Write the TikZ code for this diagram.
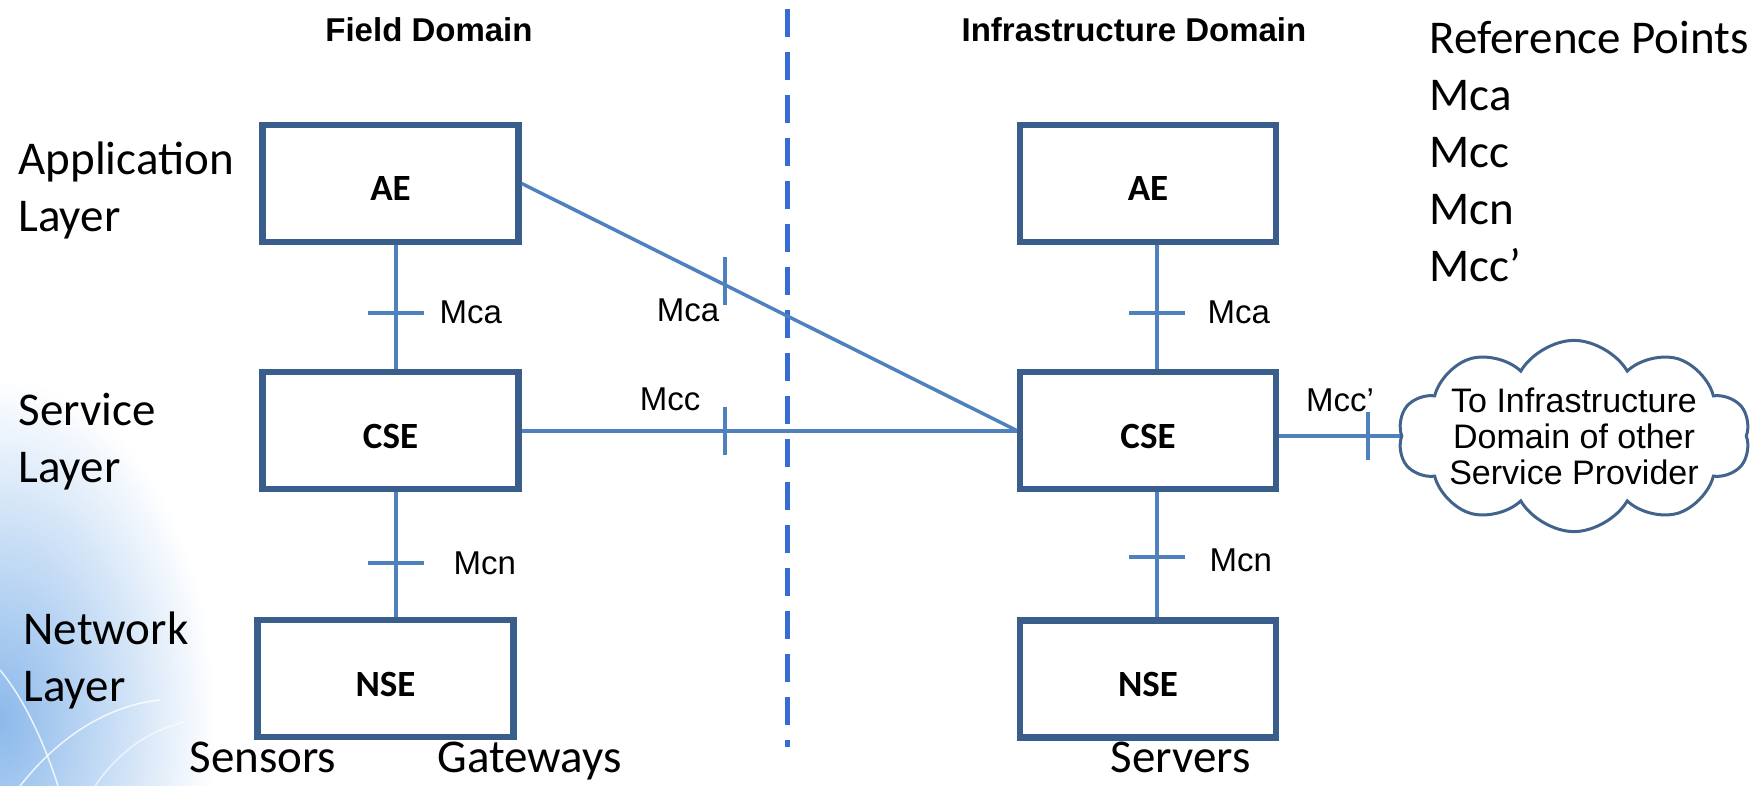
\documentclass[tikz,border=0pt]{standalone}
\usepackage{fontspec}
\setmainfont{Carlito}
\newfontfamily\arialfont{Liberation Sans}
\usetikzlibrary{shapes.symbols,fadings}

\definecolor{boxblue}{RGB}{58,94,140}
\definecolor{linkblue}{RGB}{79,129,189}
\definecolor{dashblue}{RGB}{55,108,208}
\definecolor{cloudblue}{RGB}{66,100,140}
\definecolor{bgblue}{RGB}{140,185,235}

\tikzfading[name=cornerfade, inner color=transparent!0, outer color=transparent!100]

\tikzset{
  entity/.style={draw=boxblue, line width=6.5pt, fill=white, minimum width=256pt,
    minimum height=117pt, inner sep=0pt, text height=35pt, text depth=0pt,
    font=\bfseries\fontsize{37}{40}\selectfont},
  link/.style={draw=linkblue, line width=4.5pt},
  refpt/.style={font=\arialfont\fontsize{33}{38}\selectfont},
  big/.style={font=\fontsize{47}{57}\selectfont, align=left},
}

\begin{document}
\begin{tikzpicture}[x=1pt, y=-1pt]
\useasboundingbox (0,0) rectangle (1754,786);

% background corner
\begin{scope}
\clip (0,0) rectangle (1754,786);
\fill[bgblue, path fading=cornerfade] (0,720) ellipse (215pt and 340pt);
\draw[white, line width=1.5pt, opacity=0.8] (0,670) .. controls (25,700) and (45,745) .. (58,786);
\draw[white, line width=1.5pt, opacity=0.8] (20,786) .. controls (60,735) and (110,705) .. (160,700);
\draw[white, line width=1.5pt, opacity=0.6] (95,786) .. controls (120,750) and (150,730) .. (185,722);
\end{scope}

% domain titles and divider
\node[font=\arialfont\bfseries\fontsize{33}{38}\selectfont, anchor=base] (tfield) at (429,42) {Field Domain};
\node[font=\arialfont\bfseries\fontsize{33}{38}\selectfont, anchor=base] (tinfra) at (1134,42) {Infrastructure Domain};
\coordinate (dtop) at (787,9);
\coordinate (dbot) at (787,747);
\draw[dashblue, line width=5pt, dash pattern=on 28pt off 15pt] (dtop) -- (dbot);

% layers (base = last line)
\node[big, anchor=base west] (lapp) at (15,232) {Application\\Layer};
\node[big, anchor=base west] (lsrv) at (15,482) {Service\\Layer};
\node[big, anchor=base west] (lnet) at (20,701) {Network\\Layer};

% reference points
\node[big, anchor=base west] (refs) at (1426,282) {Reference Points\\Mca\\Mcc\\Mcn\\Mcc’};

% field domain
\node[entity] (fae) at (390.5,183.5) {AE};
\node[entity] (fcse) at (390.5,430.5) {CSE};
\node[entity] (fnse) at (385.5,678.5) {NSE};

% infrastructure domain
\node[entity] (iae) at (1148,183.5) {AE};
\node[entity] (icse) at (1148,430.5) {CSE};
\node[entity] (inse) at (1148,679) {NSE};

% other provider
\node[cloud, cloud puffs=10, cloud puff arc=120, aspect=2.2, draw=cloudblue, line width=3pt,
  minimum width=352pt, minimum height=160pt, inner sep=-14pt, align=center,
  font=\arialfont\fontsize{34}{36}\selectfont] (cloud) at (1574,436)
  {To Infrastructure\\Domain of other\\Service Provider};

% interfaces
\draw[link] ([xshift=5.5pt]fae.south) -- coordinate[pos=0.545] (tmca1) ([xshift=5.5pt]fcse.north);
\draw[link] ([xshift=10.5pt]fnse.north |- fcse.south) -- coordinate[pos=0.57] (tmcn1) ([xshift=10.5pt]fnse.north);
\draw[link] ([xshift=9pt]iae.south) -- coordinate[pos=0.545] (tmca2) ([xshift=9pt]icse.north);
\draw[link] ([xshift=9pt]icse.south) -- coordinate[pos=0.52] (tmcn2) ([xshift=9pt]inse.north);
\draw[link, line width=3.5pt] (fae.east) -- coordinate[pos=0.41] (tmca3) (icse.west);
\draw[link, line width=4pt] (fcse.east) -- coordinate[pos=0.41] (tmcc1) (icse.west);
\draw[link, line width=4pt] (icse.east |- cloud.west) -- coordinate[pos=0.73] (tmcc2) (cloud.west);

% ticks
\draw[link, line width=4pt] ([xshift=-28pt]tmca1) -- ([xshift=28pt]tmca1);
\draw[link, line width=4pt] ([xshift=-28pt]tmcn1) -- ([xshift=28pt]tmcn1);
\draw[link, line width=4pt] ([xshift=-28pt]tmca2) -- ([xshift=28pt]tmca2);
\draw[link, line width=4pt] ([xshift=-28pt]tmcn2) -- ([xshift=28pt]tmcn2);
\draw[link, line width=4pt] ([yshift=28pt]tmca3) -- ([yshift=-20pt]tmca3);
\draw[link, line width=4pt] ([yshift=24pt]tmcc1) -- ([yshift=-24pt]tmcc1);
\draw[link, line width=4pt] ([yshift=24pt]tmcc2) -- ([yshift=-24pt]tmcc2);

% interface labels
\node[refpt, anchor=west] (lmca1) at (436,312) {Mca};
\node[refpt, anchor=west] (lmcn1) at (450,563) {Mcn};
\node[refpt, anchor=west] (lmca2) at (1204,312) {Mca};
\node[refpt, anchor=west] (lmcn2) at (1206,560) {Mcn};
\node[refpt] (lmca3) at (688,310) {Mca};
\node[refpt] (lmcc1) at (670,399) {Mcc};
\node[refpt] (lmcc2) at (1340,400) {Mcc’};

% devices
\node[big, anchor=base west] (sens) at (186,772) {Sensors};
\node[big, anchor=base west] (gate) at (434,772) {Gateways};
\node[big, anchor=base west] (serv) at (1107,772) {Servers};
\end{tikzpicture}
\end{document}
